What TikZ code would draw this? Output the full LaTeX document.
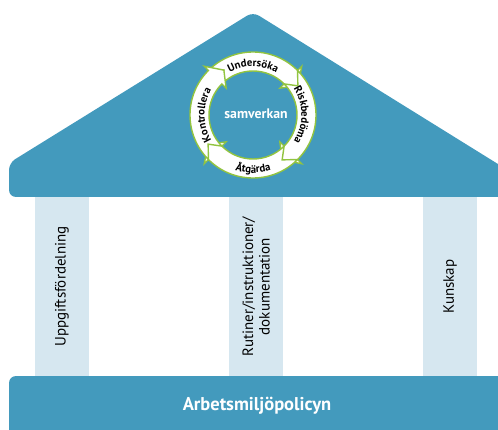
\documentclass[tikz,border=0pt]{standalone}
\usepackage{fontspec}
\setmainfont{PT Sans}
\usetikzlibrary{decorations.text}

\definecolor{housebl}{RGB}{67,154,189}
\definecolor{pillarbl}{RGB}{214,231,240}
\definecolor{ringgr}{RGB}{146,196,64}

\begin{document}
\begin{tikzpicture}[
  x=1pt, y=1pt,
  font=\fontsize{15}{16.5}\selectfont,
  house/.style={fill=housebl, rounded corners=7pt},
  pillar/.style={fill=pillarbl, rotate=90, minimum width=179, minimum height=54, align=center, inner sep=0pt},
  seg/.style={fill=white, draw=ringgr, line width=1.4pt, line join=miter},
  cw/.style={decorate, decoration={text along path, text align=center,
    text={|\bfseries\fontsize{10.8}{11}\selectfont|#1}}}
]
\useasboundingbox (0,0) rectangle (498,429);

% roof, pillars and foundation
\fill[house] (9,232) -- (9,266) -- (253,417) -- (506,260) -- (506,232) -- cycle;
\node[pillar] (upg) at (62,142.5) {Uppgiftsfördelning};
\node[pillar] (rut) at (256,142.5) {Rutiner/instruktioner/\\dokumentation};
\node[pillar] (kun) at (450,142.5) {Kunskap};
\fill[house] (9,-8) -- (9,53) -- (506,53) -- (506,-8) -- cycle;
\node[text=white, font=\bfseries\fontsize{18.5}{20}\selectfont] (pol) at (257,23) {Arbetsmiljöpolicyn};

% the cycle in the roof
\node[text=white, font=\bfseries\fontsize{13.8}{14}\selectfont] (sam) at (256,315) {samverkan};
\begin{scope}[shift={(253,314)}]
  \foreach \s/\e in {135/45, 45/-45, -45/-135, -135/-225}
    \draw[seg] (\s:63) arc[start angle=\s, end angle=\e, radius=63]
      -- (\e:69) -- (\e-12:53.5) -- (\e:38) -- (\e:44)
      arc[start angle=\e, end angle=\s, radius=44]
      -- (\s-12:53.5) -- cycle;
  \path[cw=Undersöka] (160:48.5) arc[start angle=160, end angle=20, radius=48.5];
  \path[cw=Riskbedöma] (70:48.5) arc[start angle=70, end angle=-70, radius=48.5];
  \path[cw=Åtgärda] (-160:58) arc[start angle=-160, end angle=-20, radius=58];
  \path[cw=Kontrollera] (-110:48.5) arc[start angle=-110, end angle=-250, radius=48.5];
\end{scope}
\end{tikzpicture}
\end{document}
